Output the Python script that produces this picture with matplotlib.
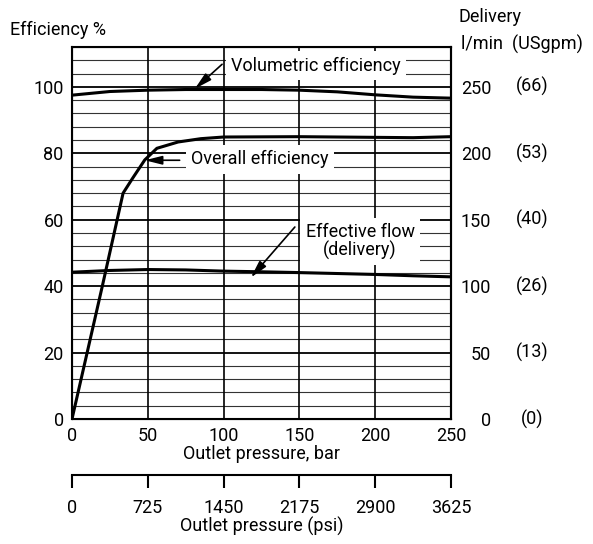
import numpy as np
import matplotlib
matplotlib.use("Agg")
import matplotlib.pyplot as plt

plt.rcParams['font.family'] = ['Roboto', 'DejaVu Sans']
plt.rcParams['font.size'] = 13

# données
pressure_bar = [0, 25, 50, 75, 100, 125, 150, 175, 200, 225, 250]
vol_eff = [97.5, 98.6, 99.0, 99.2, 99.2, 99.2, 99.0, 98.5, 97.6, 96.9, 96.6]

overall_bar = [0, 10, 20, 33.7, 40, 48, 56, 70, 85, 100, 150, 200, 225, 250]
overall_eff = [0, 20, 40, 68, 72.5, 78, 81.5, 83.4, 84.4, 84.9, 85.0, 84.8, 84.7, 85.0]

delivery_lmin = [110.5, 111.8, 112.5, 112.2, 111.3, 110.8, 110.2, 109.5, 108.8, 107.8, 107.0]

bar_ticks = [0, 50, 100, 150, 200, 250]
psi_ticks = [0, 725, 1450, 2175, 2900, 3625]
eff_ticks = [0, 20, 40, 60, 80, 100]
lmin_ticks = [0, 50, 100, 150, 200, 250]
gpm_labels = ['(0)', '(13)', '(26)', '(40)', '(53)', '(66)']

fig = plt.figure(figsize=(5.93, 5.44), dpi=100)
ax = fig.add_axes([72/593, 1-419/544, 379/593, 372/544])
ax.set_xlim(0, 250)
ax.set_ylim(0, 112)

# quadrillage
for y in np.arange(4, 112, 4):
    if y % 20 == 0:
        ax.axhline(y, color='black', lw=1.3, zorder=1)
    else:
        ax.axhline(y, color='#333333', lw=0.8, zorder=1)
for x in bar_ticks[1:-1]:
    ax.axvline(x, color='black', lw=1.2, zorder=1)

for s in ax.spines.values():
    s.set_linewidth(1.5)

ax.plot(pressure_bar, vol_eff, color='black', lw=2.2, zorder=3)
ax.plot(overall_bar, overall_eff, color='black', lw=2.2, zorder=3)

ax.set_xticks(bar_ticks)
ax.set_yticks(eff_ticks)
ax.tick_params(length=0, pad=6)
ax.set_xlabel("Outlet pressure, bar", labelpad=0)

ax2 = ax.twinx()
ax2.set_ylim(0, 112 * 2.5)
ax2.set_yticks(lmin_ticks)
ax2.tick_params(length=0, pad=29)
for lab in ax2.get_yticklabels():
    lab.set_horizontalalignment('right')
ax2.spines['right'].set_linewidth(1.5)
ax2.plot(pressure_bar, delivery_lmin, color='black', lw=2.2, zorder=3)
for v, lab in zip(lmin_ticks, gpm_labels):
    ax2.text(1.215, v, lab, transform=ax2.get_yaxis_transform(), ha='center', va='center')

# axe en psi
sec = ax.secondary_xaxis(-0.151, functions=(lambda b: b * 14.5, lambda p: p / 14.5))
sec.set_xticks(psi_ticks)
sec.tick_params(direction='out', length=9, width=1.5, pad=8)
sec.spines['bottom'].set_linewidth(1.5)
sec.set_xlabel("Outlet pressure (psi)", labelpad=0)

box = dict(boxstyle='square,pad=0.3', facecolor='white', edgecolor='none')
ax.text(161, 106.3, "Volumetric efficiency", ha='center', va='center', bbox=box, zorder=4)
ax.text(124, 78.2, "Overall efficiency", ha='center', va='center', bbox=box, zorder=4)
ax.text(190, 53.5, "Effective flow\n(delivery)", ha='center', va='center', bbox=box,
        linespacing=1.0, zorder=4)

arrow = dict(arrowstyle='-|>,head_length=0.8,head_width=0.2', color='black', lw=1.2,
             shrinkA=0, shrinkB=0)
ax.annotate('', xy=(81, 99.4), xytext=(99, 106.8), arrowprops=arrow, zorder=5)
ax.annotate('', xy=(48, 77.9), xytext=(71, 77.9), arrowprops=arrow, zorder=5)
ax2.annotate('', xy=(118, 42.6 * 2.5), xytext=(147, 57.8 * 2.5), arrowprops=arrow, zorder=5)

fig.text(10/593, 1-30/544, "Efficiency %", ha='left', va='center')
fig.text(458/593, 1-17/544, "Delivery", ha='left', va='center')
fig.text(461/593, 1-44/544, "l/min  (USgpm)", ha='left', va='center')

fig.savefig("out.png", dpi=100)
